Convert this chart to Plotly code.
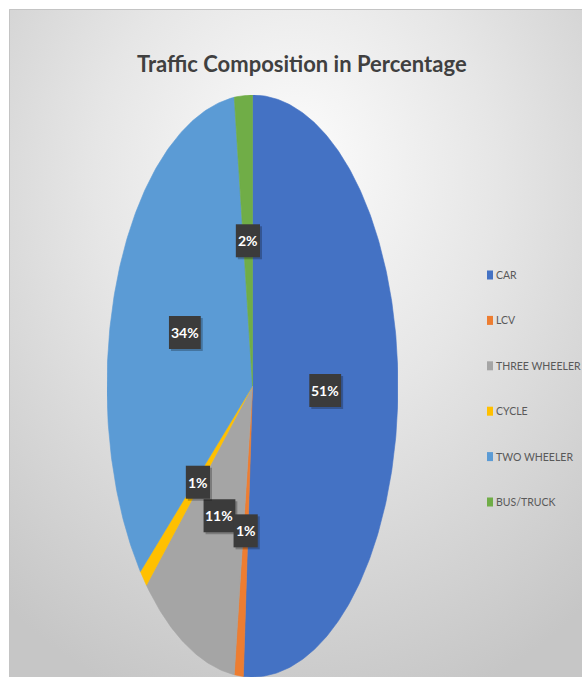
import base64

import numpy as np
import plotly.graph_objects as go

# Traffic survey: share of each vehicle class (percent)
categories = ["CAR", "LCV", "THREE WHEELER", "CYCLE", "TWO WHEELER", "BUS/TRUCK"]
shares = [51, 1, 11, 1, 34, 2]
colors = ["#4472C4", "#ED7D31", "#A5A5A5", "#FFC000", "#5B9BD5", "#70AD47"]
title_text = "Traffic Composition in Percentage"

W, H = 582, 677
FONT = "Lato, Liberation Sans, Arial, sans-serif"

fig = go.Figure()

# Pie drawn as filled wedges on a unit circle; the axes stretch it into the tall oval.
total = float(sum(shares))
start = 0.0
mids = []
for cat, val, col in zip(categories, shares, colors):
    frac = val / total
    n = max(int(frac * 480), 6)
    theta = 2 * np.pi * np.linspace(start, start + frac, n)
    xs = np.concatenate([[0.0], np.sin(theta), [0.0]])
    ys = np.concatenate([[0.0], np.cos(theta), [0.0]])
    fig.add_trace(go.Scatter(
        x=xs, y=ys, mode="lines", fill="toself", fillcolor=col,
        line=dict(color=col, width=0.6), name=cat, showlegend=False,
        hoverinfo="text", text=f"{cat}: {val}%",
    ))
    mids.append(2 * np.pi * (start + frac / 2))
    start += frac

shapes = []

# Data labels: dark boxes (with a soft drop shadow) at half radius on each
# wedge's mid-angle. Bigger wedges first so the small-wedge boxes sit on top.
label_r = 0.5
order = sorted(range(len(shares)), key=lambda i: -shares[i])
for i in order:
    ang = mids[i]
    lx, ly = label_r * np.sin(ang), label_r * np.cos(ang)
    text = f"{shares[i]}%"
    half_w = (7.6 * len(text) + 9) / 2
    half_h = 16.5
    for dx, dy, fill in ((2, -2, "rgba(0,0,0,0.25)"), (0, 0, "#3b3b3b")):
        shapes.append(dict(type="rect", xref="x", yref="y", layer="above",
                           xsizemode="pixel", ysizemode="pixel",
                           xanchor=lx, yanchor=ly,
                           x0=-half_w + dx, x1=half_w + dx,
                           y0=-half_h + dy, y1=half_h + dy,
                           fillcolor=fill, line=dict(width=0)))
    fig.add_annotation(x=lx, y=ly, xref="x", yref="y", showarrow=False,
                       text=text,
                       font=dict(family=FONT, size=14, color="white",
                                 weight="bold"))

# Title
fig.add_annotation(x=302 / W, y=1 - 64 / H, xref="paper", yref="paper",
                   text=title_text, showarrow=False, xanchor="center",
                   yanchor="middle",
                   font=dict(family=FONT, size=22, color="#404040",
                             weight="bold"))

# Legend column on the right
for i, (cat, col) in enumerate(zip(categories, colors)):
    yc = 275 + 45.4 * i
    shapes.append(dict(type="rect", xref="paper", yref="paper",
                       x0=487 / W, x1=493 / W,
                       y0=1 - (yc + 4.5) / H, y1=1 - (yc - 4.5) / H,
                       fillcolor=col, line=dict(width=0)))
    fig.add_annotation(x=494 / W, y=1 - yc / H, xref="paper", yref="paper",
                       text=cat, showarrow=False, xanchor="left",
                       yanchor="middle",
                       font=dict(family=FONT, size=10.5, color="#595959"))

# Chart area frame
shapes.append(dict(type="rect", xref="paper", yref="paper", layer="below",
                   x0=9.5 / W, x1=1.01, y0=-0.01, y1=1 - 9.5 / H,
                   line=dict(color="#c4c4c4", width=1)))

# Soft radial-gradient backdrop
svg = (
    '<svg xmlns="http://www.w3.org/2000/svg" width="573" height="668" '
    'viewBox="0 0 573 668" preserveAspectRatio="none">'
    '<defs><radialGradient id="g" cx="0.5" cy="0.3" r="0.78" '
    'fx="0.5" fy="0.22">'
    '<stop offset="0" stop-color="#fcfcfc"/>'
    '<stop offset="0.45" stop-color="#e6e6e6"/>'
    '<stop offset="1" stop-color="#c6c6c6"/>'
    '</radialGradient></defs>'
    '<rect width="573" height="668" fill="url(#g)"/></svg>'
)
bg_uri = "data:image/svg+xml;base64," + base64.b64encode(svg.encode()).decode()

fig.update_layout(
    width=W, height=H,
    margin=dict(l=0, r=0, t=0, b=0),
    paper_bgcolor="white", plot_bgcolor="rgba(0,0,0,0)",
    showlegend=False,
    shapes=shapes,
    images=[dict(source=bg_uri, xref="paper", yref="paper",
                 x=9 / W, y=1 - 9 / H, sizex=1 - 9 / W, sizey=1 - 9 / H,
                 xanchor="left", yanchor="top", sizing="stretch",
                 layer="below")],
    xaxis=dict(domain=[107 / W, 398 / W], range=[-1, 1], visible=False,
               fixedrange=True),
    yaxis=dict(domain=[0, 1 - 95 / H], range=[-1, 1], visible=False,
               fixedrange=True),
)

fig.write_html("out.html")
